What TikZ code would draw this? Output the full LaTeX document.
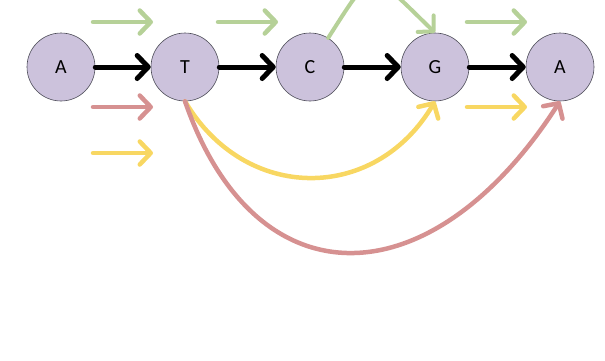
\documentclass[tikz,border=0pt]{standalone}
\usepackage{fontspec}
\setmainfont{Carlito}
\usetikzlibrary{arrows.meta}
\definecolor{nodefill}{HTML}{CCC2DC}
\definecolor{nodeline}{HTML}{4A4A55}
\definecolor{pathgreen}{HTML}{B6D198}
\definecolor{pathred}{HTML}{D69191}
\definecolor{pathyellow}{HTML}{F8D762}
\tikzset{
  base/.style={circle, minimum size=68pt, inner sep=0pt, fill=nodefill,
    draw=nodeline, line width=0.6pt, font=\fontsize{20}{22}\selectfont},
  chev/.style={-{Straight Barb[length=11pt, width=23pt, line cap=round, line join=round]},
    line cap=round},
  link/.style={chev, black, line width=5pt},
  flow/.style={chev, line width=4.5pt}
}
\begin{document}
\begin{tikzpicture}[x=1pt, y=-1pt]
  \useasboundingbox (0,0) rectangle (605,360);
  \clip (0,0) rectangle (605,360);

  % sequence nodes
  \node[base] (n1) at (61,67)  {A};
  \node[base] (n2) at (185,67) {T};
  \node[base] (n3) at (310,67) {C};
  \node[base] (n4) at (435,67) {G};
  \node[base] (n5) at (560,67) {A};

  % backbone
  \draw[link] (n1) -- (n2);
  \draw[link] (n2) -- (n3);
  \draw[link] (n3) -- (n4);
  \draw[link] (n4) -- (n5);

  % free arrow end points
  \coordinate (g1s) at (93,22);   \coordinate (g1e) at (153,22);
  \coordinate (g2s) at (218,22);  \coordinate (g2e) at (278,22);
  \coordinate (g3s) at (467,22);  \coordinate (g3e) at (527,22);
  \coordinate (r1s) at (93,107);  \coordinate (r1e) at (153,107);
  \coordinate (y1s) at (93,153);  \coordinate (y1e) at (153,153);
  \coordinate (y2s) at (467,107); \coordinate (y2e) at (527,107);

  \draw[flow, pathgreen]  (g1s) -- (g1e);
  \draw[flow, pathgreen]  (g2s) -- (g2e);
  \draw[flow, pathgreen]  (g3s) -- (g3e);
  \draw[flow, pathred]    (r1s) -- (r1e);
  \draw[flow, pathyellow] (y1s) -- (y1e);
  \draw[flow, pathyellow] (y2s) -- (y2e);

  % skip arcs
  \draw[flow, pathgreen, line width=4pt] (n3.58) .. controls (375,-35) and (368,-32) .. (n4.north);
  \draw[flow, pathyellow] (n2.south) .. controls (245,203) and (375,203) .. (n4.south);
  \draw[flow, pathred] (n2.south) .. controls (255,303) and (430,303) .. (n5.south);
\end{tikzpicture}
\end{document}
